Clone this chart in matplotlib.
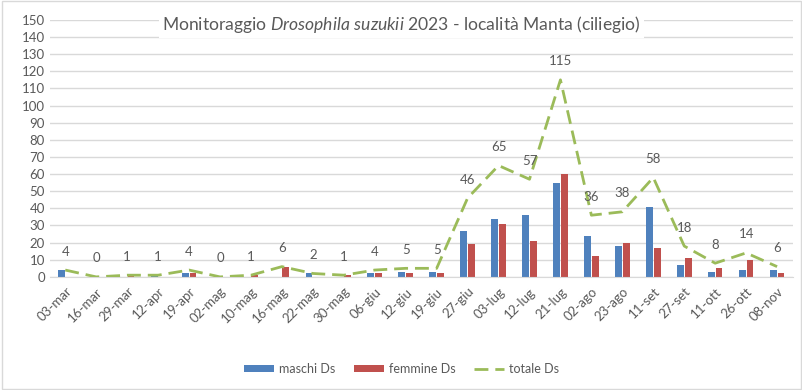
import numpy as np
import matplotlib.pyplot as plt
from matplotlib.patches import Rectangle

date = ["03-mar", "16-mar", "29-mar", "12-apr", "19-apr", "02-mag", "10-mag", "16-mag",
        "22-mag", "30-mag", "06-giu", "12-giu", "19-giu", "27-giu", "03-lug", "12-lug",
        "21-lug", "02-ago", "23-ago", "11-set", "27-set", "11-ott", "26-ott", "08-nov"]
maschi = [4, 0, 0, 1, 2, 0, 0, 0, 2, 0, 2, 3, 3, 27, 34, 36, 55, 24, 18, 41, 7, 3, 4, 4]
femmine = [0, 0, 1, 0, 2, 0, 1, 6, 0, 1, 2, 2, 2, 19, 31, 21, 60, 12, 20, 17, 11, 5, 10, 2]
totale = [4, 0, 1, 1, 4, 0, 1, 6, 2, 1, 4, 5, 5, 46, 65, 57, 115, 36, 38, 58, 18, 8, 14, 6]

plt.rcParams['font.family'] = 'Lato'
plt.rcParams['mathtext.fontset'] = 'custom'
plt.rcParams['mathtext.rm'] = 'Lato'
plt.rcParams['mathtext.it'] = 'Lato:italic'

grey = '#595959'
x = np.arange(len(date))

fig = plt.figure(figsize=(8.03, 3.90), dpi=100)
ax = fig.add_axes([0.062, 0.29, 0.925, 0.659])

w = 0.22
b1 = ax.bar(x - 0.125, maschi, w, color='#4F81BD', label='maschi Ds', zorder=2)
b2 = ax.bar(x + 0.125, femmine, w, color='#C0504D', label='femmine Ds', zorder=2)
l1, = ax.plot(x, totale, color='#9BBB59', lw=2, dashes=(5, 2.5), label='totale Ds', zorder=3)
for i in range(len(x)):
    ax.annotate(str(totale[i]), (x[i], totale[i]), xytext=(0, 9), textcoords='offset points',
                ha='center', va='bottom', fontsize=9.5, color=grey)

ax.set_xlim(-0.5, len(x) - 0.5)
ax.set_ylim(0, 150)
ax.set_yticks(range(0, 151, 10))
ax.set_xticks(x)
ax.set_xticklabels(date, rotation=45, ha='right', rotation_mode='anchor')
ax.tick_params(axis='both', length=0, colors=grey, labelsize=9.5)
ax.tick_params(axis='x', pad=6)
ax.grid(axis='y', color='#D9D9D9', lw=1, zorder=0)
for s in ['top', 'right', 'left']:
    ax.spines[s].set_visible(False)
ax.spines['bottom'].set_color('#D9D9D9')

fig.text(0.5, 0.936, r'Monitoraggio $\mathit{Drosophila\ suzukii}$ 2023 - località Manta (ciliegio)',
         ha='center', va='center', fontsize=12.6, color=grey,
         bbox=dict(facecolor='white', edgecolor='none', pad=2))

fig.legend([b1, b2, l1], ['maschi Ds', 'femmine Ds', 'totale Ds'],
           loc='lower center', bbox_to_anchor=(0.5, 0.01), ncol=3, frameon=False,
           fontsize=9, labelcolor=grey, handlelength=2.4, handleheight=0.5,
           handletextpad=0.4, columnspacing=1.5)

fig.patches.append(Rectangle((0.002, 0.003), 0.995, 0.994, transform=fig.transFigure,
                             fill=False, edgecolor='#D9D9D9', lw=1))

fig.savefig('out.png', dpi=100)
